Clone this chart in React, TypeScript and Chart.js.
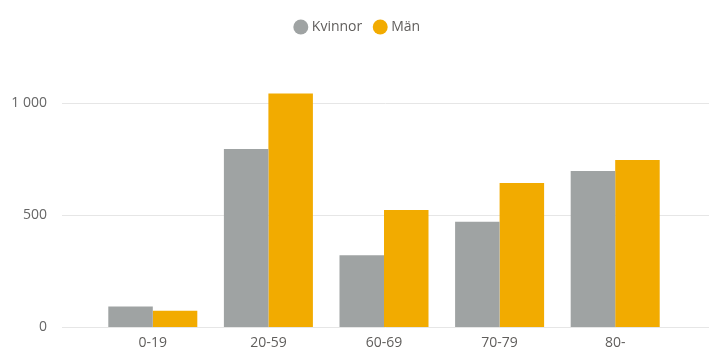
import React, { useEffect, useRef } from "react";
import { Chart, registerables } from "chart.js";

Chart.register(...registerables);

const categories = ["0-19", "20-59", "60-69", "70-79", "80-"];
const kvinnor = [92, 794, 320, 469, 696];
const man = [72, 1042, 522, 642, 745];
const yTickValues = [0, 500, 1000];
const yTickLabels = ["0", "500", "1 000"];

const FONT = "'Segoe UI', 'Open Sans', sans-serif";

const gridPlugin = {
  id: "extGrid",
  beforeInit(chart: any) {
    const legend = chart.legend;
    if (legend) {
      const orig = legend.fit;
      legend.fit = function () {
        orig.call(this);
        this.height = 58;
        this.minSize = { width: this.width, height: 58 };
      };
    }
  },
  afterLayout(chart: any) {
    if (chart.legend) {
      chart.legend.top += 6;
      chart.legend.bottom += 6;
    }
  },
  beforeDatasetsDraw(chart: any) {
    const { ctx, chartArea, scales } = chart;
    const y = scales.y;
    ctx.save();
    ctx.strokeStyle = "#E6E6E6";
    ctx.lineWidth = 1;
    y.ticks.forEach((t: any) => {
      const py = Math.round(y.getPixelForValue(t.value)) + 0.5;
      ctx.beginPath();
      ctx.moveTo(chartArea.left - 33, py);
      ctx.lineTo(chartArea.right + 36, py);
      ctx.stroke();
    });
    ctx.restore();
  },
};

export default function App() {
  const ref = useRef<HTMLCanvasElement>(null);
  useEffect(() => {
    if (!ref.current) return;
    const chart = new Chart(ref.current, {
      type: "bar",
      data: {
        labels: categories,
        datasets: [
          {
            label: "Kvinnor",
            data: kvinnor,
            backgroundColor: "#9FA3A3",
            borderWidth: 0,
            yAxisID: "y",
          },
          {
            label: "Män",
            data: man,
            backgroundColor: "#F2AB00",
            borderWidth: 0,
            yAxisID: "y",
          },
        ],
      },
      options: {
        animation: false,
        responsive: true,
        maintainAspectRatio: false,
        layout: { padding: 0 },
        datasets: {
          bar: { categoryPercentage: 0.77, barPercentage: 1 },
        },
        plugins: {
          tooltip: { enabled: false },
          legend: {
            position: "top",
            align: "center",
            labels: {
              usePointStyle: true,
              pointStyle: "circle",
              boxWidth: 8,
              boxHeight: 10.6,
              padding: 14,
              color: "#605E5C",
              font: { family: FONT, size: 14 },
            },
          },
        },
        scales: {
          x: {
            grid: { display: false, drawTicks: false },
            border: { display: false },
            afterFit: (scale: any) => {
              scale.height = 31;
            },
            ticks: {
              color: "#605E5C",
              font: { family: FONT, size: 14 },
              padding: 8,
            },
          },
          y: {
            min: 0,
            max: 1200,
            grid: { display: false, drawTicks: true, tickLength: 48 },
            border: { display: false },
            afterBuildTicks: (scale: any) => {
              scale.ticks = yTickValues.map((v) => ({ value: v }));
            },
            afterFit: (scale: any) => {
              scale.width = 95;
            },
            ticks: {
              color: "#666666",
              font: { family: FONT, size: 14 },
              padding: 0,
              callback: (v: any) => {
                const i = yTickValues.indexOf(Number(v));
                return i >= 0 ? yTickLabels[i] : "";
              },
            },
          },
          yr: {
            position: "right",
            display: true,
            grid: { display: false, drawTicks: false },
            border: { display: false },
            ticks: { display: false },
            afterFit: (scale: any) => {
              scale.width = 44;
            },
          },
        },
      },
      plugins: [gridPlugin],
    });
    return () => chart.destroy();
  }, []);
  return (
    <div style={{ position: "fixed", left: 0, top: 0, width: 717, height: 358, background: "#fff" }}>
      <canvas ref={ref} style={{ display: "block" }} />
    </div>
  );
}
